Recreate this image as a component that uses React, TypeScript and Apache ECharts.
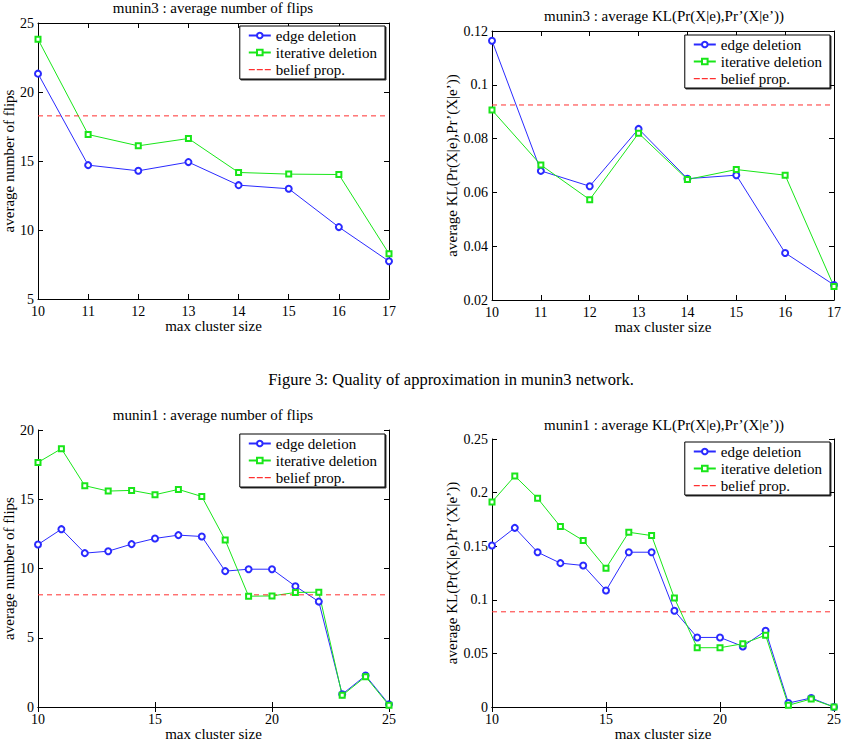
import React, { useEffect, useRef } from "react";
import * as echarts from "echarts";

const m3Sizes = [10, 11, 12, 13, 14, 15, 16, 17];
const m3FlipsEdge = [21.33, 14.7, 14.29, 14.92, 13.25, 12.99, 10.21, 7.73];
const m3FlipsIter = [23.82, 16.92, 16.1, 16.63, 14.17, 14.05, 14.02, 8.28];
const m3FlipsBP = 18.27;
const m3KLEdge = [0.1164, 0.068, 0.0623, 0.0836, 0.0651, 0.0664, 0.0375, 0.0256];
const m3KLIter = [0.0906, 0.0702, 0.0573, 0.082, 0.0648, 0.0685, 0.0664, 0.025];
const m3KLBP = 0.0925;

const m1Sizes = [10, 11, 12, 13, 14, 15, 16, 17, 18, 19, 20, 21, 22, 23, 24, 25];
const m1FlipsEdge = [11.73, 12.84, 11.11, 11.25, 11.76, 12.17, 12.41, 12.31, 9.81, 9.95, 9.95, 8.72, 7.61, 0.92, 2.27, 0.19];
const m1FlipsIter = [17.66, 18.65, 15.98, 15.59, 15.64, 15.33, 15.71, 15.2, 12.05, 8.0, 8.02, 8.27, 8.29, 0.84, 2.19, 0.12];
const m1FlipsBP = 8.1;
const m1KLEdge = [0.1506, 0.1671, 0.1444, 0.1342, 0.132, 0.1087, 0.1444, 0.1444, 0.0898, 0.0649, 0.0649, 0.0565, 0.0711, 0.0037, 0.0084, 0.0];
const m1KLIter = [0.1913, 0.2155, 0.1947, 0.1683, 0.1553, 0.1295, 0.163, 0.1599, 0.1016, 0.0553, 0.0553, 0.059, 0.067, 0.0016, 0.0075, 0.0];
const m1KLBP = 0.0888;

const seriesNames = ["edge deletion", "iterative deletion", "belief prop."];
const caption = "Figure 3: Quality of approximation in munin3 network.";

const FONT = "'Liberation Serif', 'Times New Roman', serif";
const BLUE = "#2a2aff";
const GREEN = "#19e619";
const RED = "#ff3030";
const DASH_ICON = "path://M0,0L0.01,0L0,0.01ZM22,7L21.99,7L22,6.99ZM0,3h6v1.2h-6ZM8,3h6v1.2h-6ZM16,3h6v1.2h-6Z";

type Panel = {
  title: string;
  yName: string;
  sizes: number[];
  edge: number[];
  iter: number[];
  bp: number;
  xInterval: number;
  yMin: number;
  yMax: number;
  yInterval: number;
  grid: { left: number; top: number; width: number; height: number };
  titlePos: [number, number];
  legend: { right: number; top: number };
  yNameGap: number;
};

const panels: Panel[] = [
  {
    title: "munin3 : average number of flips",
    yName: "average number of flips",
    sizes: m3Sizes, edge: m3FlipsEdge, iter: m3FlipsIter, bp: m3FlipsBP,
    xInterval: 1, yMin: 5, yMax: 25, yInterval: 5,
    grid: { left: 38, top: 23, width: 351, height: 276 },
    titlePos: [213, 8],
    legend: { right: 459, top: 26 },
    yNameGap: 19,
  },
  {
    title: "munin3 : average KL(Pr(X|e),Pr’(X|e’))",
    yName: "average KL(Pr(X|e),Pr’(X|e’))",
    sizes: m3Sizes, edge: m3KLEdge, iter: m3KLIter, bp: m3KLBP,
    xInterval: 1, yMin: 0.02, yMax: 0.12, yInterval: 0.02,
    grid: { left: 492, top: 31, width: 342, height: 269 },
    titlePos: [664, 16],
    legend: { right: 14, top: 35 },
    yNameGap: 27,
  },
  {
    title: "munin1 : average number of flips",
    yName: "average number of flips",
    sizes: m1Sizes, edge: m1FlipsEdge, iter: m1FlipsIter, bp: m1FlipsBP,
    xInterval: 5, yMin: 0, yMax: 20, yInterval: 5,
    grid: { left: 38, top: 430, width: 351, height: 277 },
    titlePos: [213, 415],
    legend: { right: 459, top: 434 },
    yNameGap: 19,
  },
  {
    title: "munin1 : average KL(Pr(X|e),Pr’(X|e’))",
    yName: "average KL(Pr(X|e),Pr’(X|e’))",
    sizes: m1Sizes, edge: m1KLEdge, iter: m1KLIter, bp: m1KLBP,
    xInterval: 5, yMin: 0, yMax: 0.25, yInterval: 0.05,
    grid: { left: 492, top: 439, width: 342, height: 268 },
    titlePos: [664, 425],
    legend: { right: 14, top: 442 },
    yNameGap: 27,
  },
];

function buildOption() {
  const grid: any[] = [];
  const xAxis: any[] = [];
  const yAxis: any[] = [];
  const series: any[] = [];
  const legend: any[] = [];
  const title: any[] = [];
  const axisLine = { show: true, lineStyle: { color: "#000", width: 1 } };
  const tick = { show: true, inside: true, length: 5, lineStyle: { color: "#000" } };
  const labelStyle = { fontFamily: FONT, fontSize: 14, color: "#000" };

  panels.forEach((p, i) => {
    grid.push({ ...p.grid, containLabel: false });
    const xMin = p.sizes[0];
    const xMax = p.sizes[p.sizes.length - 1];
    const xBase = { type: "value", gridIndex: i, min: xMin, max: xMax, interval: p.xInterval, splitLine: { show: false }, axisLine, axisTick: tick };
    const yBase = { type: "value", gridIndex: i, min: p.yMin, max: p.yMax, interval: p.yInterval, splitLine: { show: false }, axisLine, axisTick: tick };
    xAxis.push({
      ...xBase, position: "bottom",
      axisLabel: { ...labelStyle, margin: 5 },
      name: "max cluster size", nameLocation: "middle", nameGap: 17,
      nameTextStyle: { fontFamily: FONT, fontSize: 15, color: "#000" },
    });
    xAxis.push({ ...xBase, position: "top", axisLabel: { show: false } });
    yAxis.push({
      ...yBase, position: "left",
      axisLabel: { ...labelStyle, margin: 4 },
      name: p.yName, nameLocation: "middle", nameGap: p.yNameGap,
      nameTextStyle: { fontFamily: FONT, fontSize: 15, color: "#000" },
    });
    yAxis.push({ ...yBase, position: "right", axisLabel: { show: false } });
    const xi = i * 2;
    series.push({
      type: "line", name: seriesNames[0], xAxisIndex: xi, yAxisIndex: xi,
      data: p.sizes.map((s, k) => [s, p.edge[k]]),
      symbol: "emptyCircle", symbolSize: 6, showAllSymbol: true,
      lineStyle: { color: BLUE, width: 1 }, itemStyle: { color: BLUE, borderWidth: 1 },
    });
    series.push({
      type: "line", name: seriesNames[1], xAxisIndex: xi, yAxisIndex: xi,
      data: p.sizes.map((s, k) => [s, p.iter[k]]),
      symbol: "emptyRect", symbolSize: 5, showAllSymbol: true,
      lineStyle: { color: GREEN, width: 1 }, itemStyle: { color: GREEN, borderWidth: 1 },
    });
    series.push({
      type: "line", name: seriesNames[2], xAxisIndex: xi, yAxisIndex: xi,
      data: [[xMin, p.bp], [xMax, p.bp]],
      symbol: "none",
      lineStyle: { color: RED, width: 1, type: [5, 4] }, itemStyle: { color: RED },
    });
    legend.push({
      data: [
        { name: seriesNames[0] },
        { name: seriesNames[1] },
        { name: seriesNames[2], icon: DASH_ICON, itemStyle: { color: RED, borderWidth: 0 } },
      ],
      orient: "vertical", right: p.legend.right, top: p.legend.top,
      itemWidth: 22, itemHeight: 7, itemGap: 2, padding: [2, 8, 2, 8],
      borderColor: "#000", borderWidth: 1, backgroundColor: "#fff",
      shadowColor: "rgba(0,0,0,0.8)", shadowOffsetX: 1, shadowOffsetY: 1, shadowBlur: 0,
      textStyle: { fontFamily: FONT, fontSize: 15, color: "#000" },
      selectedMode: false,
    });
    title.push({
      text: p.title, left: p.titlePos[0], top: p.titlePos[1] - 8, textAlign: "center", padding: 0,
      textStyle: { fontFamily: FONT, fontSize: 15, fontWeight: "normal", color: "#000" },
    });
  });

  return {
    animation: false,
    backgroundColor: "#fff",
    textStyle: { fontFamily: FONT },
    title,
    grid,
    xAxis,
    yAxis,
    legend,
    series,
    graphic: [
      {
        type: "text", x: 451, y: 379,
        style: { text: caption, font: `16.5px ${FONT}`, fill: "#000", textAlign: "center", textVerticalAlign: "middle" },
      },
    ],
  };
}

export default function App() {
  const ref = useRef<HTMLDivElement>(null);
  useEffect(() => {
    if (!ref.current) return;
    const chart = echarts.init(ref.current, undefined, { renderer: "svg" });
    chart.setOption(buildOption() as any);
    return () => chart.dispose();
  }, []);
  return <div ref={ref} style={{ position: "absolute", left: 0, top: 0, width: 844, height: 743 }} />;
}
